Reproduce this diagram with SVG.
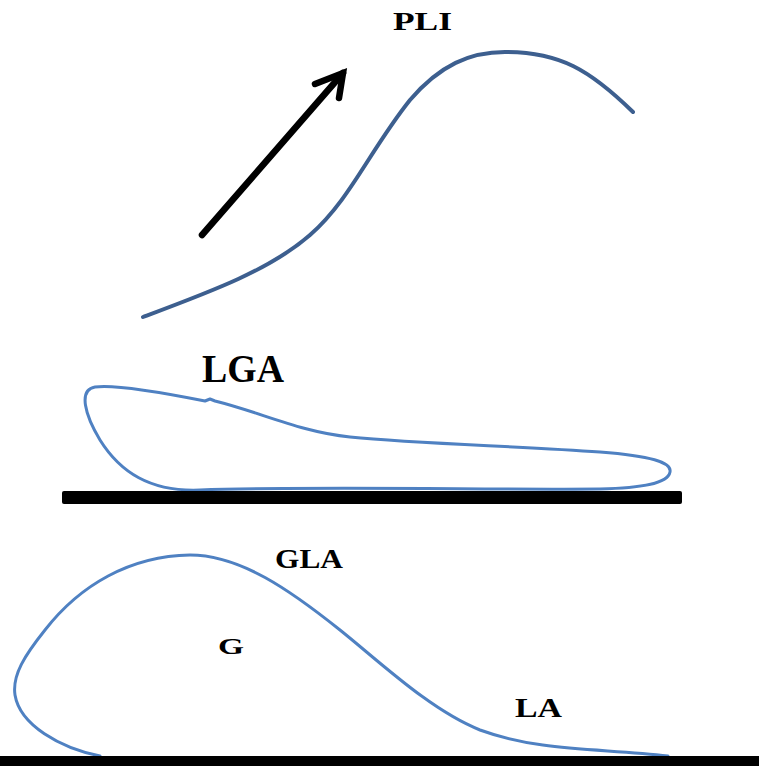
<svg xmlns="http://www.w3.org/2000/svg" width="759" height="766" viewBox="0 0 759 766">
<style>
.lbl{font-family:"Liberation Serif","Times New Roman",serif;font-weight:bold;fill:#000}
.dark{fill:none;stroke:#3d5f8f;stroke-width:4;stroke-linecap:round}
.light{fill:none;stroke:#4f81c2;stroke-width:3;stroke-linecap:round;stroke-linejoin:round}
.bar{fill:#000}
</style>
<rect width="759" height="766" fill="#fff"/>
<g id="pli-curve">
<path class="dark" d="M143,317 C210,292 270,270 310,235 C350,200 370,150 410,100 C440,65 470,52 505,52 C560,52 590,70 633,112"/>
<text class="lbl" x="393" y="30" font-size="26" textLength="59" lengthAdjust="spacingAndGlyphs">PLI</text>
</g>
<g id="connectors">
<path d="M202,235 L343,73" fill="none" stroke="#000" stroke-width="6.5" stroke-linecap="round"/>
<path d="M315,84 L343,73 L339,98" fill="none" stroke="#000" stroke-width="6.5" stroke-linecap="round" stroke-linejoin="miter"/>
</g>
<g id="lga">
<path class="light" d="M95,387 C115,384 160,392 205,401 L210,399 L215,401 C260,412 300,432 350,437 C420,444 520,446 600,452 C650,456 672,462 670,472 C668,484 640,488 600,489 C500,490 300,486 200,490 C150,492 120,472 100,440 C85,415 78,390 95,387 Z"/>
<text class="lbl" x="202" y="382" font-size="41" textLength="82" lengthAdjust="spacingAndGlyphs">LGA</text>
</g>
<g id="bar-1">
<rect class="bar" x="62" y="491" width="620" height="13" rx="2"/>
</g>
<g id="gla">
<path class="light" d="M100,756 C60,748 20,725 15,695 C12,675 25,655 45,630 C80,585 130,556 190,555 C240,555 290,590 340,630 C380,662 430,710 480,730 C540,752 600,748 668,756"/>
<text class="lbl" x="275" y="568" font-size="27" textLength="68" lengthAdjust="spacingAndGlyphs">GLA</text>
<text class="lbl" x="218" y="654" font-size="24" textLength="26" lengthAdjust="spacingAndGlyphs">G</text>
<text class="lbl" x="515" y="717" font-size="27" textLength="47" lengthAdjust="spacingAndGlyphs">LA</text>
</g>
<g id="bar-2">
<rect class="bar" x="0" y="756" width="759" height="10"/>
</g>
</svg>
